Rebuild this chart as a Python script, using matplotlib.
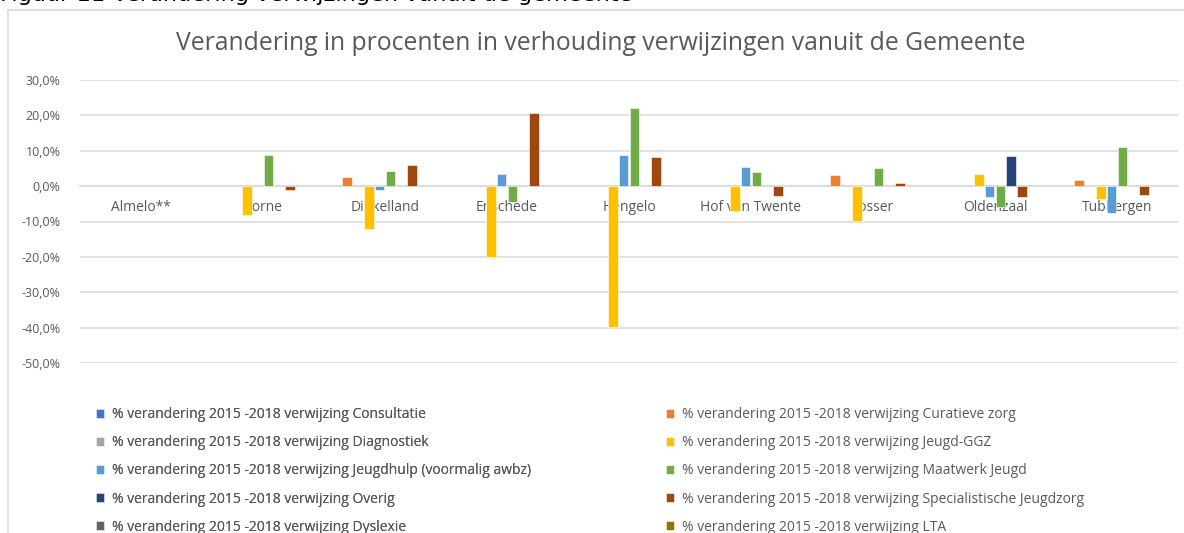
#!/usr/bin/env python3
"""Verandering in procenten in verhouding verwijzingen vanuit de Gemeente."""
import numpy as np
import matplotlib
matplotlib.use("Agg")
import matplotlib.pyplot as plt
from matplotlib.patches import Rectangle
from matplotlib.ticker import FuncFormatter, MultipleLocator

nan = np.nan

gemeenten = ["Almelo**", "Borne", "Dinkelland", "Enschede", "Hengelo",
             "Hof van Twente", "Losser", "Oldenzaal", "Tubbergen"]

series_names = ["Consultatie", "Curatieve zorg", "Diagnostiek", "Jeugd-GGZ",
                "Jeugdhulp (voormalig awbz)", "Maatwerk Jeugd", "Overig",
                "Specialistische Jeugdzorg", "Dyslexie", "LTA"]

series_colors = ["#4472C4", "#ED7D31", "#A5A5A5", "#FFC000", "#5B9BD5",
                 "#70AD47", "#264478", "#9E480E", "#636363", "#997300"]

# values in percent, one list per series, order as gemeenten
consultatie = [nan] * 9
curatieve_zorg = [nan, nan, 2.5, nan, nan, nan, 3.1, nan, 1.6]
diagnostiek = [nan] * 9
jeugd_ggz = [nan, -8.2, -12.0, -20.0, -39.8, -7.0, -9.8, 3.4, -3.7]
jeugdhulp = [nan, nan, -1.0, 3.5, 8.8, 5.4, nan, -3.2, -7.5]
maatwerk_jeugd = [nan, 8.8, 4.2, -4.4, 22.0, 3.9, 5.0, -5.8, 11.0]
overig = [nan, nan, nan, nan, nan, nan, nan, 8.4, nan]
specialistische = [nan, -1.0, 5.9, 20.6, 8.1, -2.8, 0.8, -3.2, -2.5]
dyslexie = [nan] * 9
lta = [nan] * 9

all_series = [consultatie, curatieve_zorg, diagnostiek, jeugd_ggz, jeugdhulp,
              maatwerk_jeugd, overig, specialistische, dyslexie, lta]

GREY = "#595959"
GRID = "#D9D9D9"


def main():
    fig = plt.figure(figsize=(11.84, 5.33), dpi=100)
    W, H = 1184, 533

    # caption above the chart (cut off at the top in the original)
    fig.text(0, 1 - 1 / H, "Figuur 11 Verandering verwijzingen vanuit de gemeente",
             fontsize=16.2, family=["Liberation Sans Narrow", "DejaVu Sans"],
             color="black", ha="left", va="baseline")

    # chart area border
    fig.add_artist(Rectangle((8 / W, -0.05), 1.2, 1 - 10 / H + 0.05,
                             transform=fig.transFigure, fill=False,
                             edgecolor=GRID, linewidth=1.2))

    ax = fig.add_axes([80 / W, 1 - 363 / H, (1178 - 80) / W, (363 - 80) / H])

    x = np.arange(len(gemeenten))
    n = len(all_series)
    slot = 0.0888
    handles = []
    for i, (vals, name, col) in enumerate(zip(all_series, series_names, series_colors)):
        offs = (i - (n - 1) / 2) * slot
        b = ax.bar(x + offs, np.array(vals) / 100, width=0.078, color=col,
                   edgecolor="white", linewidth=0.4, zorder=3,
                   label=f"% verandering 2015 -2018 verwijzing {name}")
        handles.append(b)

    ax.set_xlim(-0.5, len(gemeenten) - 0.5)
    ax.set_ylim(-0.5, 0.3)
    ax.yaxis.set_major_locator(MultipleLocator(0.1))
    ax.yaxis.set_major_formatter(
        FuncFormatter(lambda v, p: f"{v * 100:.1f}%".replace(".", ",")))
    ax.grid(axis="y", color=GRID, linewidth=1.1, zorder=0)
    for s in ["top", "right", "left"]:
        ax.spines[s].set_visible(False)
    ax.spines["bottom"].set_position(("data", 0))
    ax.spines["bottom"].set_color(GRID)
    ax.spines["bottom"].set_linewidth(1.1)

    ax.set_xticks(x)
    ax.set_xticklabels(gemeenten, family="Open Sans", fontsize=10, color=GREY)
    ax.tick_params(axis="x", length=0, pad=10)
    ax.tick_params(axis="y", length=0, pad=14, labelsize=9, labelcolor=GREY)
    for lab in ax.get_yticklabels():
        lab.set_family("Open Sans")

    fig.text(601 / W, 1 - 50 / H,
             "Verandering in procenten in verhouding verwijzingen vanuit de Gemeente",
             fontsize=17.8, family="Open Sans", color=GREY, ha="center", va="baseline")

    # legend in two columns, filled row-wise like Excel
    leg_kw = dict(frameon=False, prop={"family": "Open Sans", "size": 10},
                  labelcolor=GREY, handlelength=0.6, handleheight=0.6,
                  handletextpad=0.55, labelspacing=0.95, borderaxespad=0,
                  borderpad=0)
    left = fig.legend(handles[0::2], [h.get_label() for h in handles[0::2]],
                      loc="upper left", bbox_to_anchor=(96 / W, 1 - 407 / H), **leg_kw)
    fig.add_artist(left)
    fig.legend(handles[1::2], [h.get_label() for h in handles[1::2]],
               loc="upper left", bbox_to_anchor=(666 / W, 1 - 407 / H), **leg_kw)

    fig.savefig("out.png", dpi=100)


if __name__ == "__main__":
    main()
